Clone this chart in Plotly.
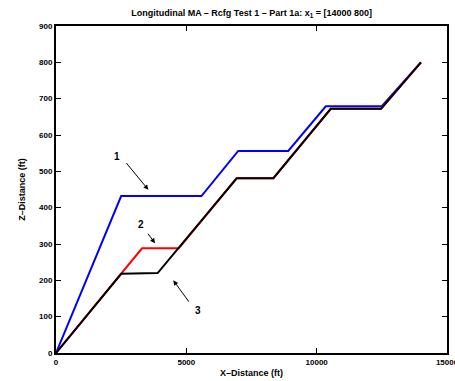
import plotly.graph_objects as go

# Trajectories (X-distance ft, Z-distance ft)
path1_x = [0, 2500, 5580, 6990, 8910, 10350, 12490, 14000]
path1_z = [0, 432, 432, 556, 556, 679, 679, 800]

path2_x = [0, 2500, 3300, 4710, 6930, 8340, 10540, 12470, 14000]
path2_z = [0, 218, 288, 288, 481, 481, 672, 672, 800]

path3_x = [0, 2500, 3900, 6930, 8340, 10540, 12470, 14000]
path3_z = [0, 218, 220, 481, 481, 672, 672, 800]

x_ticks = [0, 5000, 10000, 15000]
y_ticks = [0, 100, 200, 300, 400, 500, 600, 700, 800, 900]

# Callout labels: (label, text x, text z, arrow tail x, tail z, arrow head x, head z)
callouts = [
    ("1", 2340, 541, 2650, 527, 3545, 449),
    ("2", 3270, 355, 3490, 332, 3800, 302),
    ("3", 5460, 117, 5140, 137, 4500, 200),
]

FONT = "Liberation Sans, Arial, Helvetica, sans-serif"

fig = go.Figure()
fig.add_trace(go.Scatter(x=path1_x, y=path1_z, mode="lines",
                         line=dict(color="#0000ff", width=2), showlegend=False))
fig.add_trace(go.Scatter(x=path2_x, y=path2_z, mode="lines",
                         line=dict(color="#ff0000", width=2), showlegend=False))
fig.add_trace(go.Scatter(x=path3_x, y=path3_z, mode="lines",
                         line=dict(color="#000000", width=2), showlegend=False))

for label, tx, tz, ax0, az0, hx, hz in callouts:
    fig.add_annotation(x=tx, y=tz, text=f"<b>{label}</b>", showarrow=False,
                       font=dict(family=FONT, size=10, color="black"))
    fig.add_annotation(x=hx, y=hz, ax=ax0, ay=az0, axref="x", ayref="y",
                       xref="x", yref="y", text="", showarrow=True,
                       arrowhead=2, arrowsize=1, arrowwidth=1, arrowcolor="black")

axis_common = dict(
    showgrid=False, zeroline=False, showline=True, linecolor="black", linewidth=2,
    mirror="ticks", ticks="inside", ticklen=5, tickwidth=1, tickcolor="black",
    tickfont=dict(family=FONT, size=8, color="black"),
    automargin=False, ticklabeloverflow="allow",
)

fig.update_xaxes(range=[0, 15000], tickvals=x_ticks,
                 ticktext=[f"<b>{v}</b>" for v in x_ticks],
                 title=dict(text="<b>X–Distance (ft)</b>", standoff=4,
                            font=dict(family=FONT, size=9, color="black")),
                 **axis_common)
fig.update_yaxes(range=[0, 900], tickvals=y_ticks,
                 ticktext=[f"<b>{v}</b>" for v in y_ticks],
                 title=dict(text="<b>Z–Distance (ft)</b>", standoff=12,
                            font=dict(family=FONT, size=9, color="black")),
                 **axis_common)

fig.update_layout(
    width=455, height=381,
    margin=dict(l=56, r=8, t=26, b=28),
    paper_bgcolor="white", plot_bgcolor="white",
    title=dict(text="<b>Longitudinal MA – Rcfg Test 1 – Part 1a: x<sub>1</sub> = [14000 800]</b>",
               x=0.553, xanchor="center", y=0.975, yanchor="top",
               font=dict(family=FONT, size=9, color="black")),
)

fig.write_html("out.html")
